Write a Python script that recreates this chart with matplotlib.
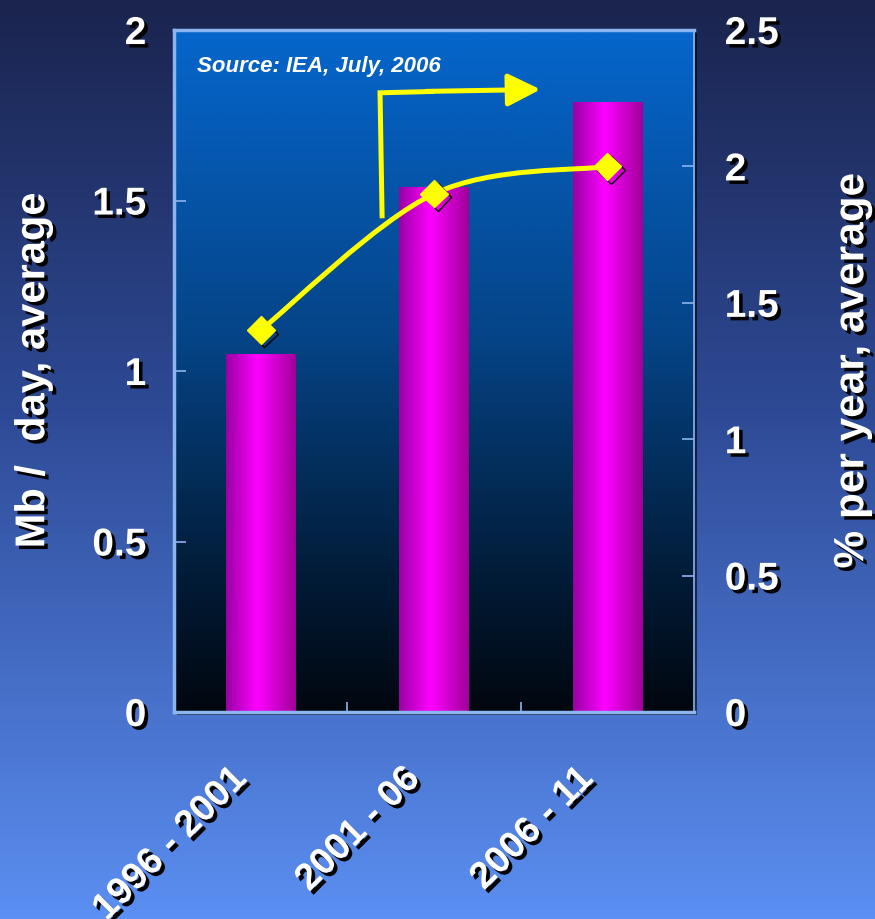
import matplotlib.pyplot as plt
import matplotlib.patheffects as pe
import numpy as np
from matplotlib.colors import LinearSegmentedColormap
from matplotlib.patches import PathPatch, Rectangle
from matplotlib.path import Path
from matplotlib.transforms import ScaledTranslation

periods = ['1996 - 2001', '2001 - 06', '2006 - 11']
mb_per_day = [1.05, 1.54, 1.79]      # bars, left axis
pct_per_year = [1.40, 1.90, 2.00]    # line, right axis

left_ticks = [0, 0.5, 1, 1.5, 2]
left_labels = ['0', '0.5', '1', '1.5', '2']
right_ticks = [0, 0.5, 1, 1.5, 2, 2.5]
right_labels = ['0', '0.5', '1', '1.5', '2', '2.5']

plt.rcParams['font.family'] = ['Liberation Sans', 'DejaVu Sans']
plt.rcParams['font.weight'] = 'bold'

shadow = [pe.withSimplePatchShadow(offset=(2.5, -2.5), shadow_rgbFace='black', alpha=1)]
frame_col = '#8cb4ee'
yellow = '#ffff00'

fig = plt.figure(figsize=(8.75, 9.19), dpi=100)

# slide background
bg = fig.add_axes([0, 0, 1, 1], zorder=-10)
bg_cmap = LinearSegmentedColormap.from_list(
    'bg', [(0, '#1a244e'), (0.45, '#2e4a96'), (1, '#5b8ff2')])
bg.imshow(np.linspace(0, 1, 256).reshape(-1, 1), cmap=bg_cmap,
          aspect='auto', extent=[0, 1, 0, 1])
bg.axis('off')

pos = [0.199, 0.2252, 0.5943, 0.7421]
fig.patches.append(Rectangle((pos[0], pos[1]), pos[2], pos[3],
                             transform=fig.transFigure + ScaledTranslation(3/100, -3/100, fig.dpi_scale_trans),
                             facecolor='black', alpha=0.6, zorder=-5))

ax = fig.add_axes(pos)
ax.patch.set_visible(False)
x = np.arange(len(periods))

# plot area gradient: blue at the top fading to black
area_cmap = LinearSegmentedColormap.from_list(
    'area', [(0, '#0566cc'), (0.45, '#054487'), (0.8, '#021c38'), (1, '#01070f')])
ax.imshow(np.linspace(0, 1, 256).reshape(-1, 1), cmap=area_cmap, aspect='auto',
          extent=[-0.5, 2.5, 0, 2], zorder=0)

# bars with a horizontal shaded fill
bar_cmap = LinearSegmentedColormap.from_list(
    'bar', [(0, '#9a00a4'), (0.45, '#ff00ff'), (1, '#a0009a')])
bars = ax.bar(x, mb_per_day, width=0.4, color='none', edgecolor='none', zorder=2)
for b in bars:
    x0, w, h = b.get_x(), b.get_width(), b.get_height()
    im = ax.imshow(np.linspace(0, 1, 128).reshape(1, -1), cmap=bar_cmap,
                   aspect='auto', extent=[x0, x0 + w, 0, h], zorder=2)
    im.set_clip_path(b)

ax.set_xlim(-0.5, 2.5)
ax.set_ylim(0, 2)
ax.set_yticks(left_ticks, left_labels)
ax.tick_params(axis='y', direction='in', length=8.5, width=1.2, color=frame_col,
               pad=20, labelsize=28, labelcolor='white')
ax.set_xticks(x, periods, rotation=45, ha='right', va='center', rotation_mode='anchor')
ax.tick_params(axis='x', length=0, pad=44, labelsize=27, labelcolor='white')
ax.set_xticks([0.5, 1.5], minor=True)
ax.tick_params(axis='x', which='minor', direction='in', length=7, width=1.2, color=frame_col)
for lbl in ax.get_yticklabels():
    lbl.set_path_effects(shadow)
shift = ScaledTranslation(-0.2, 0.0, fig.dpi_scale_trans)
for lbl in ax.get_xticklabels():
    lbl.set_path_effects(shadow)
    lbl.set_transform(lbl.get_transform() + shift)
for side, sp in ax.spines.items():
    sp.set_color(frame_col)
    sp.set_linewidth(1.2 if side == 'right' else 2.5)

# growth rate on the secondary axis, smoothed line through the points
ax2 = ax.twinx()
ax2.set_ylim(0, 2.5)
ax2.set_yticks(right_ticks, right_labels)
ax2.tick_params(axis='y', direction='in', length=8.5, width=1.2, color=frame_col,
                pad=22, labelsize=28, labelcolor='white')
for lbl in ax2.get_yticklabels():
    lbl.set_path_effects(shadow)
for sp in ax2.spines.values():
    sp.set_visible(False)

pts = np.column_stack([x, pct_per_year]).astype(float)
ext = np.vstack([pts[0], pts, pts[-1]])
verts = [pts[0]]
codes = [Path.MOVETO]
for i in range(len(pts) - 1):
    p0, p1, p2, p3 = ext[i], ext[i + 1], ext[i + 2], ext[i + 3]
    verts += [p1 + (p2 - p0) / 6, p2 - (p3 - p1) / 6, p2]
    codes += [Path.CURVE4] * 3
ax2.add_patch(PathPatch(Path(verts, codes), fill=False, edgecolor=yellow,
                        lw=3.6, capstyle='round', zorder=3))
ax2.plot(x, pct_per_year, 'D', ms=14, color=yellow, mec=yellow, zorder=4,
         path_effects=[pe.SimpleLineShadow(offset=(2.5, -2.5), shadow_color='black', alpha=1),
                       pe.Normal()])

# bent arrow pointing to the right-hand scale
ax.plot([0.40, 0.396, 0.50], [0.724, 0.908, 0.910], transform=ax.transAxes,
        color=yellow, lw=3.6, solid_joinstyle='miter', solid_capstyle='butt', zorder=5)
ax.annotate('', xy=(0.71, 0.913), xytext=(0.48, 0.910), xycoords='axes fraction',
            arrowprops=dict(arrowstyle='-|>,head_length=1.0,head_width=0.5',
                            mutation_scale=20, color=yellow, lw=3.6), zorder=5)

ax.text(0.044, 0.962, 'Source: IEA, July, 2006', transform=ax.transAxes,
        ha='left', va='top', fontsize=16, style='italic', color='white', zorder=6)

fig.text(0.038, 0.597, 'Mb /  day, average', rotation=90, ha='center', va='center',
         fontsize=30, color='white', path_effects=shadow)
fig.text(0.974, 0.597, '% per year, average', rotation=90, ha='center', va='center',
         fontsize=30.5, color='white', path_effects=shadow)

plt.savefig('out.png', dpi=100)
